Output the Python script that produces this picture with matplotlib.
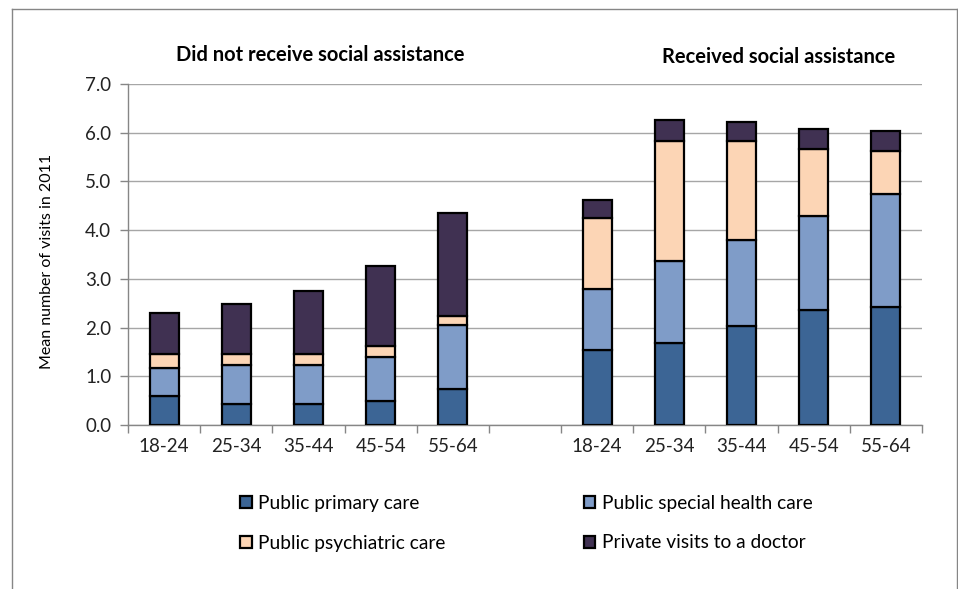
import matplotlib
matplotlib.use("Agg")
import matplotlib.pyplot as plt
from matplotlib.patches import Patch
from matplotlib.lines import Line2D
import numpy as np

plt.rcParams["font.family"] = ["Lato", "DejaVu Sans"]

age_groups = ["18-24", "25-34", "35-44", "45-54", "55-64"]
group_titles = ["Did not receive social assistance", "Received social assistance"]
series_names = ["Public primary care", "Public special health care",
                "Public psychiatric care", "Private visits to a doctor"]

# Mean visits per person, by age group (no social assistance)
no_sa_primary = [0.59, 0.43, 0.43, 0.49, 0.73]
no_sa_special = [0.57, 0.80, 0.80, 0.90, 1.33]
no_sa_psych = [0.30, 0.23, 0.23, 0.23, 0.18]
no_sa_private = [0.84, 1.03, 1.29, 1.64, 2.12]

# Mean visits per person, by age group (received social assistance)
sa_primary = [1.53, 1.68, 2.03, 2.36, 2.42]
sa_special = [1.26, 1.68, 1.76, 1.93, 2.33]
sa_psych = [1.46, 2.48, 2.03, 1.38, 0.87]
sa_private = [0.37, 0.43, 0.41, 0.40, 0.42]

colors = ["#3C6595", "#7F9CC8", "#FCD5B5", "#403152"]

fig = plt.figure(figsize=(9.58, 5.89), dpi=100)
ax = fig.add_axes([128 / 958, 1 - 425 / 589, 794 / 958, 341 / 589])

n = len(age_groups)
x_no = np.arange(n)
x_sa = np.arange(n) + n + 1
x = np.concatenate([x_no, x_sa])
layers = [no_sa_primary + sa_primary, no_sa_special + sa_special,
          no_sa_psych + sa_psych, no_sa_private + sa_private]

bottom = np.zeros(len(x))
for vals, col, name in zip(layers, colors, series_names):
    vals = np.array(vals)
    ax.bar(x, vals, width=0.4, bottom=bottom, color=col, edgecolor="black",
           linewidth=1.6, label=name, zorder=3)
    bottom += vals

ax.set_xlim(-0.5, 2 * n + 0.5)
ax.set_ylim(0, 7)
ax.set_yticks(np.arange(0, 7.01, 1.0))
ax.set_yticklabels([f"{v:.1f}" for v in np.arange(0, 7.01, 1.0)])
ax.set_xticks(x)
ax.set_xticklabels(age_groups + age_groups)
ax.set_xticks(np.arange(-0.5, 2 * n + 1, 1.0), minor=True)
ax.tick_params(axis="x", which="major", length=0, pad=9, labelsize=13.5, colors="#222222")
ax.tick_params(axis="x", which="minor", length=6, color="#868686", width=1)
ax.tick_params(axis="y", length=6, color="#868686", width=1, labelsize=13.5,
               labelcolor="#222222", pad=6)
ax.yaxis.grid(True, color="#A6A6A6", linewidth=1)
ax.set_axisbelow(True)
for s in ["top", "right"]:
    ax.spines[s].set_visible(False)
for s in ["left", "bottom"]:
    ax.spines[s].set_color("#868686")
    ax.spines[s].set_linewidth(1)

ax.set_ylabel("Mean number of visits in 2011", fontsize=11.5, color="black")
ax.yaxis.set_label_coords(-0.093, 0.481)

fig.text(320 / 958, 1 - 55 / 589, group_titles[0], ha="center", va="center",
         fontsize=14.5, fontweight="bold")
fig.text(779 / 958, 1 - 57 / 589, group_titles[1], ha="center", va="center",
         fontsize=14.5, fontweight="bold")

handles = [Patch(facecolor=c, edgecolor="black", linewidth=1.6) for c in colors]
order = [0, 2, 1, 3]
fig.legend([handles[i] for i in order], [series_names[i] for i in order],
           ncol=2, loc="center left", bbox_to_anchor=(223 / 958, 1 - 523 / 589),
           frameon=False, fontsize=13.8, handlelength=0.6, handleheight=0.6,
           handletextpad=0.35, columnspacing=7.2, labelspacing=1.2)

# Thin frame around the chart area
frame_kw = dict(color="#868686", linewidth=1, transform=fig.transFigure)
fig.add_artist(Line2D([12 / 958, 12 / 958], [0, 1 - 9 / 589], **frame_kw))
fig.add_artist(Line2D([12 / 958, 957 / 958], [1 - 9 / 589, 1 - 9 / 589], **frame_kw))
fig.add_artist(Line2D([957 / 958, 957 / 958], [0, 1 - 9 / 589], **frame_kw))

fig.savefig("out.png", dpi=100)
